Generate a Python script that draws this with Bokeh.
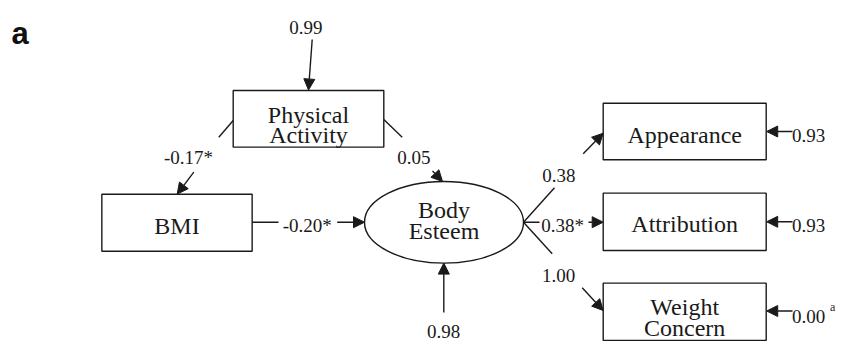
from bokeh.plotting import figure
from bokeh.models import Range1d, Arrow, NormalHead
from bokeh.core.properties import value
from bokeh.embed import file_html
from bokeh.resources import INLINE

# ---------------- data ----------------
panel_label = "a"
node_names = ["Physical Activity", "BMI", "Body Esteem", "Appearance", "Attribution", "Weight Concern"]
node_kind = ["box", "box", "ellipse", "box", "box", "box"]
node_lines = [["Physical", "Activity"], ["BMI"], ["Body", "Esteem"], ["Appearance"], ["Attribution"], ["Weight", "Concern"]]

path_from = ["Physical Activity", "Physical Activity", "BMI", "Body Esteem", "Body Esteem", "Body Esteem"]
path_to = ["BMI", "Body Esteem", "Body Esteem", "Appearance", "Attribution", "Weight Concern"]
path_coef = ["-0.17*", "0.05", "-0.20*", "0.38", "0.38*", "1.00"]

resid_node = ["Physical Activity", "Body Esteem", "Appearance", "Attribution", "Weight Concern"]
resid_value = ["0.99", "0.98", "0.93", "0.93", "0.00"]
resid_note = ["", "", "", "", "a"]

# ---------------- layout (positions in reference pixel space) ----------------
node_geom = {  # cx, cy, w, h, text baselines
    "Physical Activity": (308.0, 118.3, 150.6, 56.7, [114.7, 134.7]),
    "BMI": (176.5, 222.3, 150.3, 57.0, [225.3]),
    "Body Esteem": (443.5, 221.8, 159.0, 81.7, [209.3, 230.0]),
    "Appearance": (684.2, 131.0, 163.0, 56.6, [134.3]),
    "Attribution": (684.2, 221.3, 163.0, 57.3, [223.5]),
    "Weight Concern": (684.2, 311.3, 163.0, 57.3, [306.7, 327.0]),
}
path_geom = [
    dict(tail=((232.7, 120.0), (218.3, 136.7)), label=(188.0, 156.7), head=((193.3, 171.7), (176.7, 193.6))),
    dict(tail=((383.3, 119.0), (401.7, 136.7)), label=(413.3, 156.7), head=((432.0, 170.5), (442.0, 181.0))),
    dict(tail=((251.5, 221.7), (278.0, 221.7)), label=(306.7, 224.5), head=((336.7, 221.7), (364.0, 221.7))),
    dict(tail=((523.0, 221.7), (554.0, 187.3)), label=(558.3, 175.0), head=((582.7, 153.3), (602.7, 132.7))),
    dict(tail=((523.0, 221.7), (539.0, 221.7)), label=(562.0, 225.0), head=((588.0, 221.7), (602.7, 221.7))),
    dict(tail=((523.0, 221.7), (551.7, 253.3)), label=(558.0, 275.0), head=((581.7, 287.3), (602.7, 310.0))),
]
resid_geom = [
    dict(head=((311.7, 39.0), (308.0, 89.5)), label=(305.3, 27.3), align="center"),
    dict(head=((443.3, 312.0), (443.3, 262.6)), label=(443.0, 330.5), align="center"),
    dict(head=((792.0, 131.0), (766.2, 131.0)), label=(791.5, 134.5), align="left"),
    dict(head=((792.0, 221.3), (766.2, 221.3)), label=(791.5, 225.0), align="left"),
    dict(head=((792.0, 310.5), (766.2, 310.5)), label=(791.5, 316.0), align="left"),
]
note_offset = (38.0, -9.5)

INK = "#1a1a1a"
SERIF = value("Liberation Serif")

p = figure(width=849, height=341, x_range=Range1d(0, 849), y_range=Range1d(341, 0),
           output_backend="svg", toolbar_location=None, min_border=0)
p.axis.visible = False
p.grid.visible = False
p.outline_line_color = None
p.background_fill_color = "white"

# nodes
bx = [n for n, k in zip(node_names, node_kind) if k == "box"]
ex = [n for n, k in zip(node_names, node_kind) if k == "ellipse"]
p.rect(x=[node_geom[n][0] for n in bx], y=[node_geom[n][1] for n in bx],
       width=[node_geom[n][2] for n in bx], height=[node_geom[n][3] for n in bx],
       fill_color="white", line_color=INK, line_width=1.4)
p.ellipse(x=[node_geom[n][0] for n in ex], y=[node_geom[n][1] for n in ex],
          width=[node_geom[n][2] for n in ex], height=[node_geom[n][3] for n in ex],
          fill_color="white", line_color=INK, line_width=1.4)

tx, ty, tt = [], [], []
for n, lines in zip(node_names, node_lines):
    g = node_geom[n]
    for line, base in zip(lines, g[4]):
        tx.append(g[0]); ty.append(base); tt.append(line)
p.text(x=tx, y=ty, text=tt, text_font=SERIF, text_font_size="24px", text_color=INK,
       text_align="center", text_baseline="alphabetic")


def add_arrow(a, b):
    p.add_layout(Arrow(end=NormalHead(size=11, fill_color=INK, line_color=INK, line_width=1),
                       x_start=a[0], y_start=a[1], x_end=b[0], y_end=b[1],
                       line_color=INK, line_width=1.4))


# structural paths
for coef, g in zip(path_coef, path_geom):
    (a, b) = g["tail"]
    p.line([a[0], b[0]], [a[1], b[1]], line_color=INK, line_width=1.4)
    add_arrow(*g["head"])
p.text(x=[g["label"][0] for g in path_geom], y=[g["label"][1] for g in path_geom], text=path_coef,
       text_font=SERIF, text_font_size="19px", text_color=INK, text_align="center",
       text_baseline="alphabetic")

# residuals
for val, note, g in zip(resid_value, resid_note, resid_geom):
    add_arrow(*g["head"])
    p.text(x=[g["label"][0]], y=[g["label"][1]], text=[val], text_font=SERIF, text_font_size="19px",
           text_color=INK, text_align=g["align"], text_baseline="alphabetic")
    if note:
        p.text(x=[g["label"][0] + note_offset[0]], y=[g["label"][1] + note_offset[1]], text=[note],
               text_font=SERIF, text_font_size="12px", text_color=INK, text_align="left",
               text_baseline="alphabetic")

# panel label
p.text(x=[11.0], y=[33.3], text=[panel_label], text_font=value("Liberation Sans"),
       text_font_style="bold", text_font_size="31px", text_color="#111111",
       text_align="left", text_baseline="alphabetic")

open("out.html", "w").write(file_html(p, INLINE))
